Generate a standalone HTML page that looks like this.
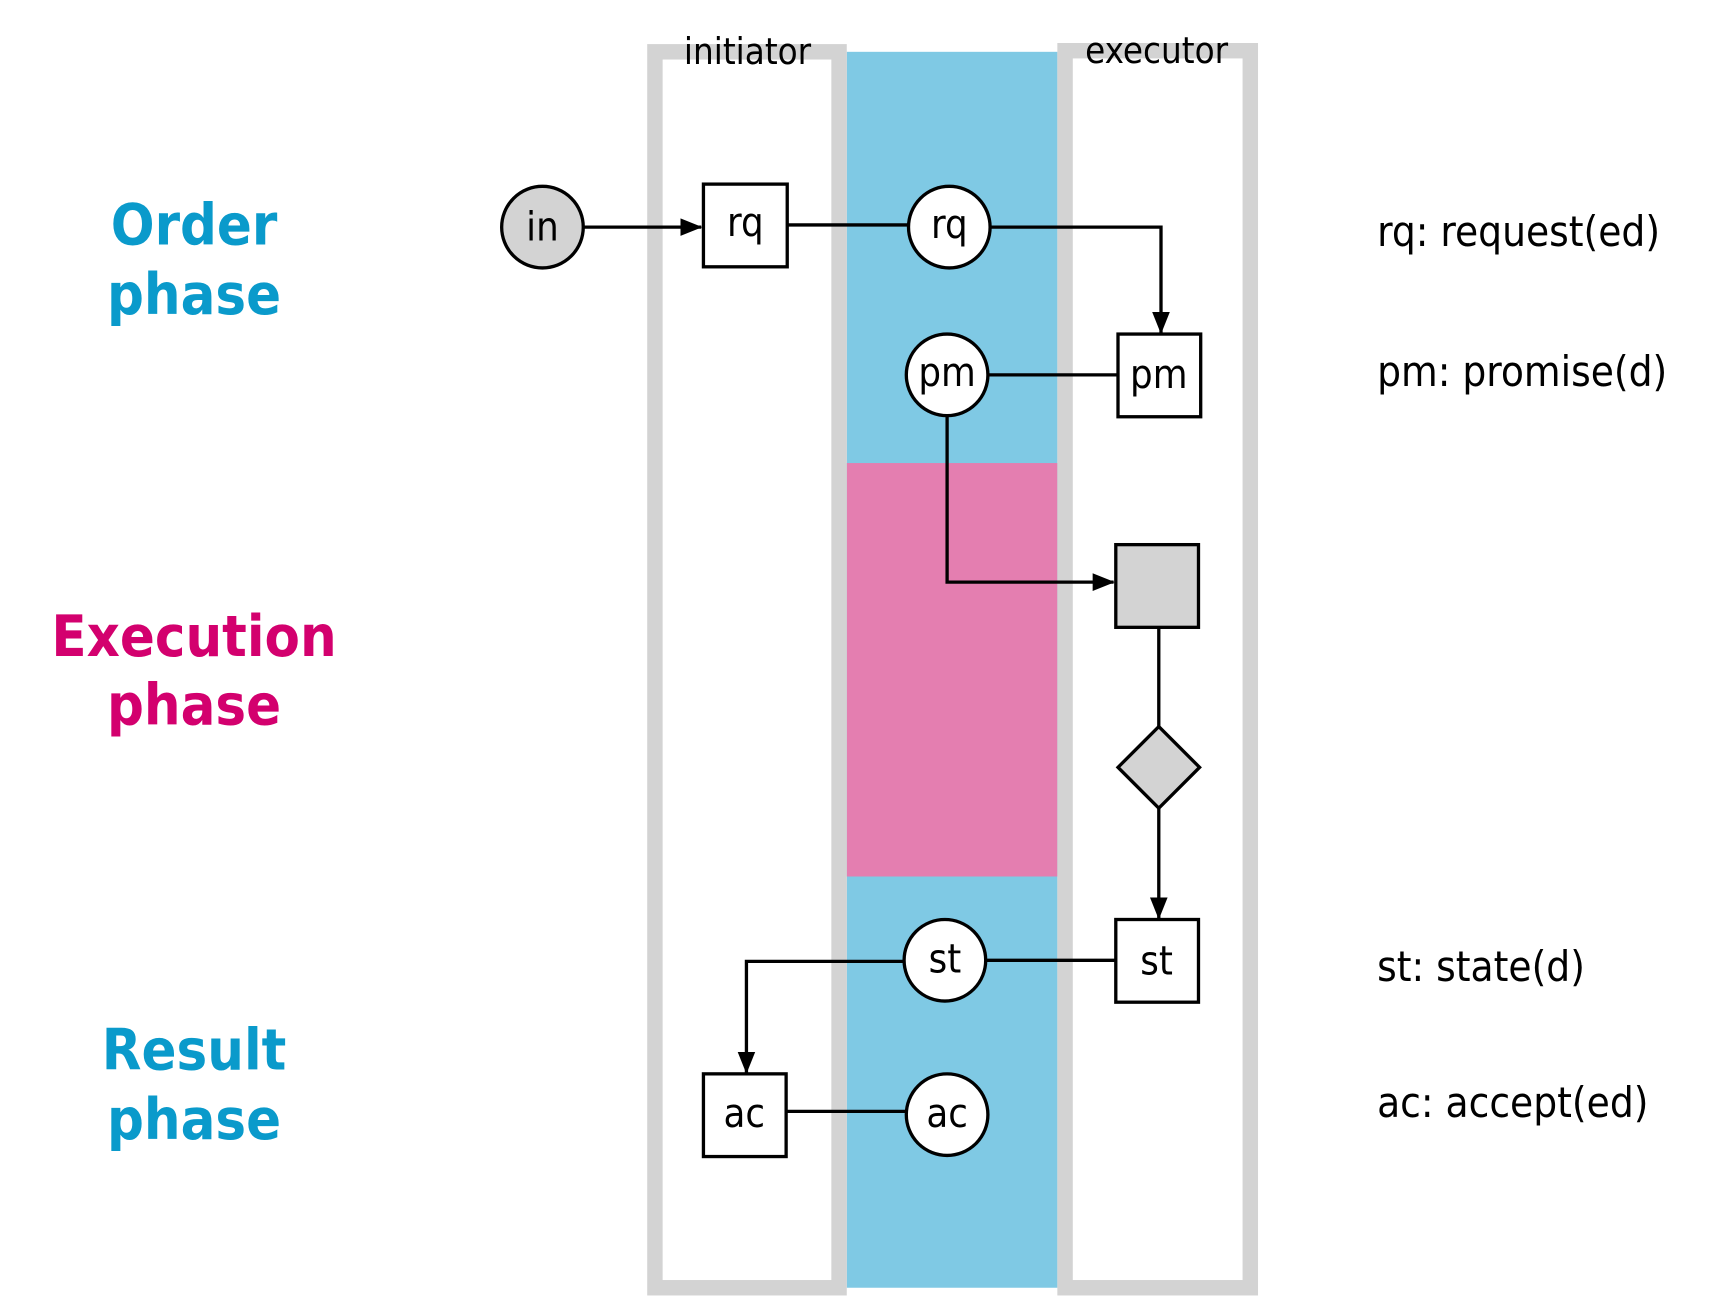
<!DOCTYPE html>
<html><head><style>html,body{margin:0;padding:0;background:#fff}svg{display:block}</style></head>
<body>
<svg width="1720" height="1312" viewBox="3 0 1560 1190" preserveAspectRatio="none" xmlns="http://www.w3.org/2000/svg" font-family="'DejaVu Sans','Liberation Sans',sans-serif">
<defs>
<marker id="b" viewBox="0 0 20 20" markerWidth="20" markerHeight="20" refX="19" refY="10" orient="auto" markerUnits="userSpaceOnUse"><path d="M0,2 L20,10 L0,18 z" fill="#000"/></marker></defs>
<rect x="771" y="47" width="191" height="1121" fill="#7fc9e4"/>
<rect x="771" y="420" width="191" height="375" fill="#e47eb0"/>
<rect x="597" y="47" width="167" height="1121" fill="none" stroke="#d3d3d3" stroke-width="14"/>
<rect x="969" y="46" width="168" height="1122" fill="none" stroke="#d3d3d3" stroke-width="14"/>
<text x="681" y="58" font-size="33" text-anchor="middle" font-family="'DejaVu Sans Condensed','DejaVu Sans',sans-serif">initiator</text>
<text x="1052" y="57" font-size="33" text-anchor="middle" font-family="'DejaVu Sans Condensed','DejaVu Sans',sans-serif">executor</text>
<g stroke="#000" stroke-width="3" fill="none">
<line x1="532" y1="206" x2="639" y2="206" marker-end="url(#b)"/>
<line x1="717" y1="204" x2="828" y2="204"/>
<polyline points="901,206 1056,206 1056,302" marker-end="url(#b)"/>
<line x1="899" y1="340" x2="1017" y2="340"/>
<polyline points="862,377 862,528 1013,528" marker-end="url(#b)"/>
<line x1="1054" y1="569" x2="1054" y2="659"/>
<line x1="1054" y1="733" x2="1054" y2="833" marker-end="url(#b)"/>
<line x1="897" y1="871" x2="1015" y2="871"/>
<polyline points="823,872 680,872 680,973" marker-end="url(#b)"/>
<line x1="716" y1="1008" x2="825" y2="1008"/>
</g>
<g stroke="#000" stroke-width="3">
<circle cx="495" cy="206" r="37" fill="#d3d3d3"/>
<rect x="641" y="167" width="76" height="75" fill="#fff"/>
<circle cx="864" cy="206" r="37" fill="#fff"/>
<circle cx="862" cy="340" r="37" fill="#fff"/>
<rect x="1017" y="303" width="75" height="75" fill="#fff"/>
<rect x="1015" y="494" width="75" height="75" fill="#d3d3d3"/>
<path d="M1054,659 L1091,696 L1054,733 L1017,696 z" fill="#d3d3d3"/>
<rect x="1015" y="834" width="75" height="75" fill="#fff"/>
<circle cx="860" cy="871" r="37" fill="#fff"/>
<rect x="641" y="974" width="75" height="75" fill="#fff"/>
<circle cx="862" cy="1011" r="37" fill="#fff"/>
</g>
<g font-size="36" text-anchor="middle" font-family="'DejaVu Sans Condensed','DejaVu Sans',sans-serif">
<text x="495" y="218">in</text>
<text x="679" y="214">rq</text>
<text x="864" y="216">rq</text>
<text x="862" y="350">pm</text>
<text x="1054" y="352">pm</text>
<text x="1052" y="884">st</text>
<text x="860" y="882">st</text>
<text x="678" y="1022">ac</text>
<text x="862" y="1022">ac</text>
</g>
<g font-size="38" font-family="'DejaVu Sans Condensed','DejaVu Sans',sans-serif">
<text x="1252" y="223">rq: request(ed)</text>
<text x="1252" y="350">pm: promise(d)</text>
<text x="1252" y="890">st: state(d)</text>
<text x="1252" y="1013">ac: accept(ed)</text>
</g>
<g font-size="52" font-weight="bold" text-anchor="middle" font-family="'DejaVu Sans Condensed','DejaVu Sans',sans-serif">
<text x="179" y="222" fill="#0a9acb">Order</text>
<text x="179" y="285" fill="#0a9acb">phase</text>
<text x="179" y="595" fill="#d3006e">Execution</text>
<text x="179" y="657" fill="#d3006e">phase</text>
<text x="179" y="970" fill="#0a9acb">Result</text>
<text x="179" y="1033" fill="#0a9acb">phase</text>
</g>
</svg>
</body></html>
